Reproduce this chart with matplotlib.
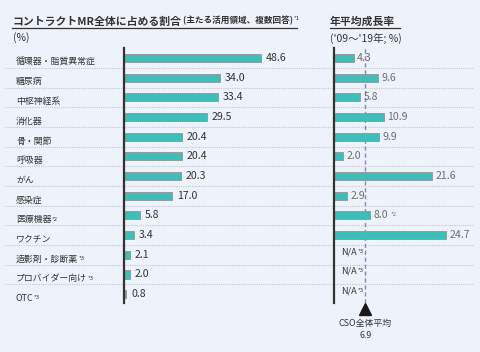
import numpy as np
import matplotlib
matplotlib.use("Agg")
import matplotlib.pyplot as plt
from matplotlib.lines import Line2D

plt.rcParams['font.family'] = ['Noto Sans CJK JP', 'DejaVu Sans']

# data
categories = ['循環器・脂質異常症', '糖尿病', '中枢神経系', '消化器', '骨・関節', '呼吸器', 'がん',
              '感染症', '医療機器', 'ワクチン', '造影剤・診断薬', 'プロバイダー向け', 'OTC']
cat_notes = ['', '', '', '', '', '', '', '', '*2', '', '*3', '*3', '*3']
share = [48.6, 34.0, 33.4, 29.5, 20.4, 20.4, 20.3, 17.0, 5.8, 3.4, 2.1, 2.0, 0.8]
growth = [4.3, 9.6, 5.8, 10.9, 9.9, 2.0, 21.6, 2.9, 8.0, 24.7, None, None, None]
growth_notes = ['', '', '', '', '', '', '', '', '*2', '', '*3', '*3', '*3']
cso_avg = 6.9

W, H = 480, 352
bg = '#eef2fa'
teal = '#3fbdb8'
edge = '#8e9696'
dark = '#333333'
grey = '#6e6e6e'

def box(x0, y0, x1, y1):
    return [x0 / W, 1 - y1 / H, (x1 - x0) / W, (y1 - y0) / H]

def fy(y):
    return 1 - y / H

# rows: first center at 58px, spacing ~19.67px
row0, step = 58, 19.67
top, bottom = 48, 303
ylim = ((bottom - row0) / step, (top - row0) / step)
n = len(categories)
rows = np.arange(n)

fig = plt.figure(figsize=(W / 100, H / 100), dpi=100, facecolor=bg)

# background axes for labels and separators
ax_bg = fig.add_axes(box(0, top, W, bottom))
ax_bg.set_xlim(0, W)
ax_bg.set_ylim(*ylim)
ax_bg.axis('off')
for i in rows[:-1]:
    ax_bg.plot([5, 473], [i + 0.5, i + 0.5], color='#c4c8d0', lw=0.8, ls=(0, (1, 1)))
for i, (c, note) in enumerate(zip(categories, cat_notes)):
    t = ax_bg.text(16, i + 0.22, c, fontsize=6.4, color=dark, va='center', ha='left')
    if note:
        ax_bg.annotate(note, xy=(1, 1), xycoords=t, xytext=(0.3, -1), textcoords='offset points',
                       fontsize=4.3, color=dark, va='top', ha='left')

# left panel: share
ax_l = fig.add_axes(box(124, top, 330, bottom))
ax_l.set_xlim(0, 206 / 2.82)
ax_l.set_ylim(*ylim)
ax_l.barh(rows, share, height=0.42, color=teal, edgecolor=edge, lw=0.6)
for i, v in enumerate(share):
    ax_l.annotate(f'{v:.1f}', (v, i), xytext=(3.5, 0), textcoords='offset points',
                  fontsize=7.6, color=dark, va='center', ha='left')

# right panel: growth
ax_r = fig.add_axes(box(334, top, 474, bottom))
ax_r.set_xlim(0, 140 / 4.55)
ax_r.set_ylim(*ylim)
gr_rows = [i for i, g in enumerate(growth) if g is not None]
ax_r.barh(gr_rows, [growth[i] for i in gr_rows], height=0.42, color=teal, edgecolor=edge, lw=0.6)
ax_r.axvline(cso_avg, color='#8f80c4', lw=1.0, ls=(0, (3, 2)), zorder=0)
for i, (g, note) in enumerate(zip(growth, growth_notes)):
    if g is not None:
        t = ax_r.annotate(f'{g:.1f}', (g, i), xytext=(2.5, 0), textcoords='offset points',
                          fontsize=7.6, color=grey, va='center', ha='left')
        if note:
            ax_r.annotate(note, xy=(1, 1), xycoords=t, xytext=(1.5, -1), textcoords='offset points',
                          fontsize=4.3, color=grey, va='top', ha='left')
    else:
        t = ax_r.text(1.6, i - 0.15, 'N/A', fontsize=6.6, color=dark, va='center', ha='left')
        ax_r.annotate(note, xy=(1, 1), xycoords=t, xytext=(0.2, -1), textcoords='offset points',
                      fontsize=4.3, color=dark, va='top', ha='left')

ax_r.plot([cso_avg], [(309 - row0) / step], marker='^', ms=8.5, color='#1a1a1a', clip_on=False)
ax_r.text(cso_avg, (319 - row0) / step, 'CSO全体平均\n6.9', fontsize=6.4, color=dark,
          ha='center', va='top', linespacing=1.45, clip_on=False)

for ax in (ax_l, ax_r):
    ax.set_facecolor('none')
    for s in ('top', 'right', 'bottom'):
        ax.spines[s].set_visible(False)
    ax.spines['left'].set_color(dark)
    ax.spines['left'].set_linewidth(1.6)
    ax.set_xticks([])
    ax.set_yticks([])

# titles
t1 = fig.text(12 / W, fy(21.5), 'コントラクトMR全体に占める割合', fontsize=7.8, fontweight='bold',
              color=dark, va='center', ha='left')
a1 = fig.add_artist(plt.Annotation(' (主たる活用領域、複数回答)', xy=(1, 0), xycoords=t1, xytext=(0, 0.8),
                                   textcoords='offset points', fontsize=6.2, fontweight='bold',
                                   color=dark, va='bottom', ha='left'))
fig.add_artist(plt.Annotation('*1', xy=(1, 1), xycoords=a1, xytext=(0.3, 0), textcoords='offset points',
                              fontsize=4.3, color=dark, va='top', ha='left'))
fig.add_artist(Line2D([12 / W, 297 / W], [fy(27.5)] * 2, color=dark, lw=0.9))
fig.text(13 / W, fy(38), '(%)', fontsize=7.5, color=dark, va='center', ha='left')

fig.text(330 / W, fy(21.5), '年平均成長率', fontsize=7.8, fontweight='bold', color=dark,
         va='center', ha='left')
fig.add_artist(Line2D([330 / W, 400 / W], [fy(27.5)] * 2, color=dark, lw=0.9))
fig.text(330 / W, fy(38), "('09～'19年; %)", fontsize=7.5, color=dark, va='center', ha='left')

fig.savefig('out.png', dpi=100, facecolor=bg)
